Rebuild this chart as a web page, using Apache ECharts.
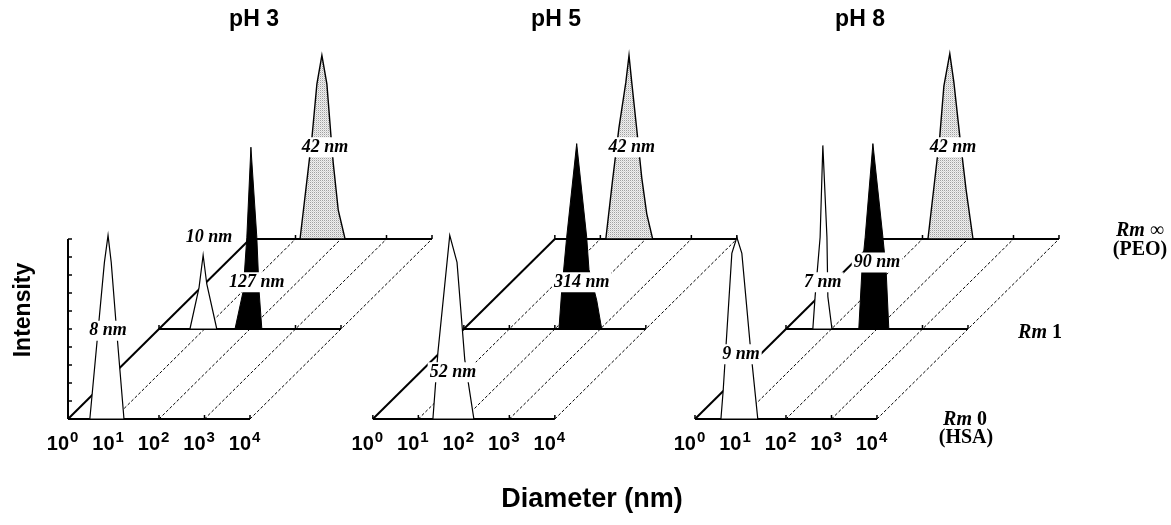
<!DOCTYPE html>
<html>
<head>
<meta charset="utf-8">
<script src="https://cdn.jsdelivr.net/npm/echarts@6/dist/echarts.min.js"></script>
<style>
html, body { margin: 0; padding: 0; background: #fff; }
#chart { width: 1171px; height: 525px; }
</style>
</head>
<body>
<div id="chart"></div>
<script>
// panels (pH) and depth rows (Rm)
var panels = ['pH 3', 'pH 5', 'pH 8'];
var decades = [0, 1, 2, 3, 4];
var tickExp = ['0', '1', '2', '3', '4'];
var intensityTicks = [0, 10, 20, 30, 40, 50, 60, 70, 80, 90, 100];

// peak outlines: [log10(diameter / nm), intensity %]
var ph3Rm0 = [[0.48, 0], [0.80, 87], [0.88, 102], [0.95, 87], [1.05, 55], [1.23, 0]];
var ph3Rm1a = [[0.68, 0], [0.88, 23], [0.97, 41], [1.05, 25], [1.27, 0]];
var ph3Rm1b = [[1.67, 0], [1.85, 21], [1.93, 51], [2.02, 101], [2.15, 51], [2.20, 21], [2.26, 0]];
var ph3RmInf = [[1.10, 0], [1.36, 56], [1.47, 86], [1.58, 102], [1.69, 86], [1.78, 57], [1.83, 42], [1.94, 16], [2.09, 0]];
var ph5Rm0 = [[1.32, 0], [1.43, 37], [1.63, 87], [1.69, 102], [1.85, 87], [2.02, 33], [2.22, 0]];
var ph5Rm1 = [[2.09, 0], [2.15, 21], [2.26, 51], [2.48, 103], [2.70, 51], [2.75, 33], [2.92, 16], [3.03, 0]];
var ph5RmInf = [[1.12, 0], [1.27, 33], [1.41, 62], [1.56, 87], [1.63, 102], [1.69, 87], [1.80, 61], [1.91, 34], [2.02, 14], [2.15, 0]];
var ph8Rm0 = [[0.57, 0], [0.62, 16], [0.81, 92], [0.92, 101], [1.03, 92], [1.21, 42], [1.38, 0]];
var ph8Rm1a = [[0.59, 0], [0.64, 18], [0.75, 51], [0.81, 102], [0.90, 51], [0.92, 18], [1.01, 0]];
var ph8Rm1b = [[1.60, 0], [1.67, 33], [1.74, 51], [1.91, 103], [2.13, 51], [2.20, 33], [2.26, 0]];
var ph8RmInf = [[1.12, 0], [1.38, 57], [1.47, 85], [1.60, 103], [1.69, 87], [1.82, 57], [1.96, 27], [2.11, 0]];

var peakShapes = [ph3Rm0, ph3Rm1a, ph3Rm1b, ph3RmInf, ph5Rm0, ph5Rm1, ph5RmInf, ph8Rm0, ph8Rm1a, ph8Rm1b, ph8RmInf];
var peakPanel = [0, 0, 0, 0, 1, 1, 1, 2, 2, 2, 2];
var peakRow = [0, 1, 1, 2, 0, 1, 2, 0, 1, 1, 2];
var peakFill = ['white', 'white', 'black', 'dots', 'white', 'black', 'dots', 'white', 'white', 'black', 'dots'];
var peakLabels = ['8 nm', '10 nm', '127 nm', '42 nm', '52 nm', '314 nm', '42 nm', '9 nm', '7 nm', '90 nm', '42 nm'];
var labelAt = [[0.88, 49], [1.10, 51], [2.15, 26], [1.65, 51], [1.76, 26], [2.59, 26], [1.69, 51], [1.01, 36], [0.81, 26], [2.00, 37], [1.67, 51]];

// layout of the pseudo 3D frame (decades / intensity units)
var PANEL_X = [0, 6.70, 13.78];
var ROW_DX = 2, ROW_DY = 50;
var SANS = '"Liberation Sans", Arial, sans-serif';
var SERIF = '"Liberation Serif", "Times New Roman", serif';

function proj(p, r, logd, inten) {
  return [PANEL_X[p] + logd + r * ROW_DX, inten + r * ROW_DY];
}

// stippled grey fill
var dotCanvas = document.createElement('canvas');
dotCanvas.width = 2; dotCanvas.height = 2;
var dctx = dotCanvas.getContext('2d');
dctx.fillStyle = '#efefef'; dctx.fillRect(0, 0, 2, 2);
dctx.fillStyle = '#a0a0a0'; dctx.fillRect(0, 0, 1, 1);
dctx.fillStyle = '#d4d4d4'; dctx.fillRect(1, 1, 1, 1);

function fillStyle(kind) {
  if (kind === 'black') return { fill: '#000', stroke: '#000', lineWidth: 1 };
  if (kind === 'dots') return { fill: { image: dotCanvas, repeat: 'repeat' }, stroke: '#000', lineWidth: 1.4 };
  return { fill: '#fff', stroke: '#000', lineWidth: 1.2 };
}

function seg(a, b, w, dash) {
  return {
    type: 'line',
    shape: { x1: a[0], y1: a[1], x2: b[0], y2: b[1] },
    style: { stroke: '#000', lineWidth: w, lineDash: dash || null }
  };
}

function frameItem(params, api) {
  var p = api.value(0);
  var children = [];
  for (var d = 1; d < decades.length; d++) {
    children.push(seg(api.coord(proj(p, 0, decades[d], 0)), api.coord(proj(p, 2, decades[d], 0)), 1, [3, 2]));
  }
  children.push(seg(api.coord(proj(p, 0, 0, 0)), api.coord(proj(p, 2, 0, 0)), 2));
  if (p === 0) {
    children.push(seg(api.coord(proj(0, 0, 0, 0)), api.coord(proj(0, 0, 0, 100)), 2));
    intensityTicks.forEach(function (v) {
      var t = api.coord(proj(0, 0, 0, v));
      children.push(seg(t, [t[0] + 4, t[1]], 1.5));
    });
  }
  decades.forEach(function (d, i) {
    var t = api.coord(proj(p, 0, d, 0));
    children.push({ type: 'text', x: t[0] + 1, y: t[1] + 25,
      style: { text: '10', font: 'bold 20px ' + SANS, fill: '#000', align: 'right', verticalAlign: 'middle' } });
    children.push({ type: 'text', x: t[0] + 2, y: t[1] + 19,
      style: { text: tickExp[i], font: 'bold 15px ' + SANS, fill: '#000', align: 'left', verticalAlign: 'middle' } });
  });
  return { type: 'group', children: children };
}

function rowRenderer(row) {
  return function (params, api) {
    var p = api.value(0);
    var children = [seg(api.coord(proj(p, row, 0, 0)), api.coord(proj(p, row, 4, 0)), 2)];
    decades.forEach(function (d) {
      var t = api.coord(proj(p, row, d, 0));
      children.push(seg(t, [t[0], t[1] - 4], 1.5));
    });
    peakShapes.forEach(function (s, i) {
      if (peakPanel[i] !== p || peakRow[i] !== row) return;
      children.push({
        type: 'polygon',
        shape: { points: s.map(function (pt) { return api.coord(proj(p, row, pt[0], pt[1])); }) },
        style: fillStyle(peakFill[i])
      });
    });
    return { type: 'group', children: children };
  };
}

function labelItem(params, api) {
  var i = params.dataIndex;
  var pos = api.coord(proj(peakPanel[i], peakRow[i], labelAt[i][0], labelAt[i][1]));
  return {
    type: 'text', x: pos[0], y: pos[1],
    style: {
      text: peakLabels[i], font: 'italic bold 18px ' + SERIF, fill: '#000',
      align: 'center', verticalAlign: 'middle', backgroundColor: '#fff', padding: [1, 2]
    }
  };
}

var chart = echarts.init(document.getElementById('chart'));
var panelData = panels.map(function (n, i) { return [i, 0]; });

chart.setOption({
  animation: false,
  grid: { left: 68, top: 5, width: 1092, height: 414 },
  xAxis: { type: 'value', min: 0, max: 24, show: false },
  yAxis: { type: 'value', min: 0, max: 230, show: false },
  series: [
    { type: 'custom', name: 'frame', z: 1, silent: true, data: panelData, renderItem: frameItem },
    { type: 'custom', name: 'Rm ∞', z: 2, silent: true, data: panelData, renderItem: rowRenderer(2) },
    { type: 'custom', name: 'Rm 1', z: 3, silent: true, data: panelData, renderItem: rowRenderer(1) },
    { type: 'custom', name: 'Rm 0', z: 4, silent: true, data: panelData, renderItem: rowRenderer(0) },
    { type: 'custom', name: 'labels', z: 5, silent: true,
      data: peakLabels.map(function (l, i) { return [i, 0]; }), renderItem: labelItem }
  ],
  graphic: [
    { type: 'text', x: 254, y: 20, style: { text: panels[0], font: 'bold 23px ' + SANS, fill: '#000', align: 'center', verticalAlign: 'middle' } },
    { type: 'text', x: 556, y: 20, style: { text: panels[1], font: 'bold 23px ' + SANS, fill: '#000', align: 'center', verticalAlign: 'middle' } },
    { type: 'text', x: 860, y: 20, style: { text: panels[2], font: 'bold 23px ' + SANS, fill: '#000', align: 'center', verticalAlign: 'middle' } },
    { type: 'text', x: 24, y: 310, rotation: Math.PI / 2,
      style: { text: 'Intensity', font: 'bold 23px ' + SANS, fill: '#000', align: 'center', verticalAlign: 'middle' } },
    { type: 'text', x: 592, y: 500, style: { text: 'Diameter (nm)', font: 'bold 27px ' + SANS, fill: '#000', align: 'center', verticalAlign: 'middle' } },
    { type: 'text', x: 1140, y: 231, style: { text: '{i|Rm} ∞', font: '20px ' + SERIF, fill: '#000', align: 'center', verticalAlign: 'middle',
      rich: { i: { font: 'italic bold 20px ' + SERIF } } } },
    { type: 'text', x: 1140, y: 250, style: { text: '(PEO)', font: 'bold 20px ' + SERIF, fill: '#000', align: 'center', verticalAlign: 'middle' } },
    { type: 'text', x: 1040, y: 333, style: { text: '{i|Rm} 1', font: 'bold 20px ' + SERIF, fill: '#000', align: 'center', verticalAlign: 'middle',
      rich: { i: { font: 'italic bold 20px ' + SERIF } } } },
    { type: 'text', x: 965, y: 420, style: { text: '{i|Rm} 0', font: 'bold 20px ' + SERIF, fill: '#000', align: 'center', verticalAlign: 'middle',
      rich: { i: { font: 'italic bold 20px ' + SERIF } } } },
    { type: 'text', x: 966, y: 438, style: { text: '(HSA)', font: 'bold 20px ' + SERIF, fill: '#000', align: 'center', verticalAlign: 'middle' } }
  ]
});
</script>
</body>
</html>
